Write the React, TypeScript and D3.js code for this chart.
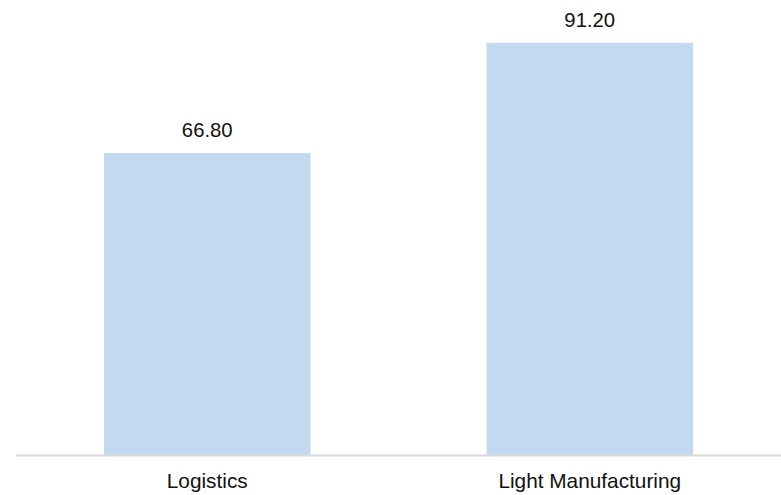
import React from "react";
import * as d3 from "d3";

const categories = ["Logistics", "Light Manufacturing"];
const values = [66.8, 91.2];

const W = 781;
const H = 495;

export default function App() {
  const x = d3.scaleBand<string>().domain(categories).range([16, 781]).paddingInner(0.46).paddingOuter(0.23);
  const y = d3.scaleLinear().domain([0, 100]).range([455, 3]);
  const font = "'Liberation Sans', Arial, sans-serif";
  return (
    <svg width={W} height={H} style={{ position: "absolute", left: 0, top: 0 }} fontFamily={font}>
      <rect width={W} height={H} fill="#ffffff" />
      {categories.map((c, i) => (
        <g key={c}>
          <rect x={x(c)} y={y(values[i])} width={x.bandwidth()} height={y(0) - y(values[i])} fill="#c3d9ef" />
          <text x={(x(c) as number) + x.bandwidth() / 2} y={y(values[i]) - 16} textAnchor="middle" fontSize={20.3} fill="#111">
            {values[i].toFixed(2)}
          </text>
          <text x={(x(c) as number) + x.bandwidth() / 2} y={488} textAnchor="middle" fontSize={20.8} fill="#111">
            {c}
          </text>
        </g>
      ))}
      <line x1={16} x2={781} y1={y(0) + 0.5} y2={y(0) + 0.5} stroke="#d9d9d9" strokeWidth={2} />
    </svg>
  );
}
